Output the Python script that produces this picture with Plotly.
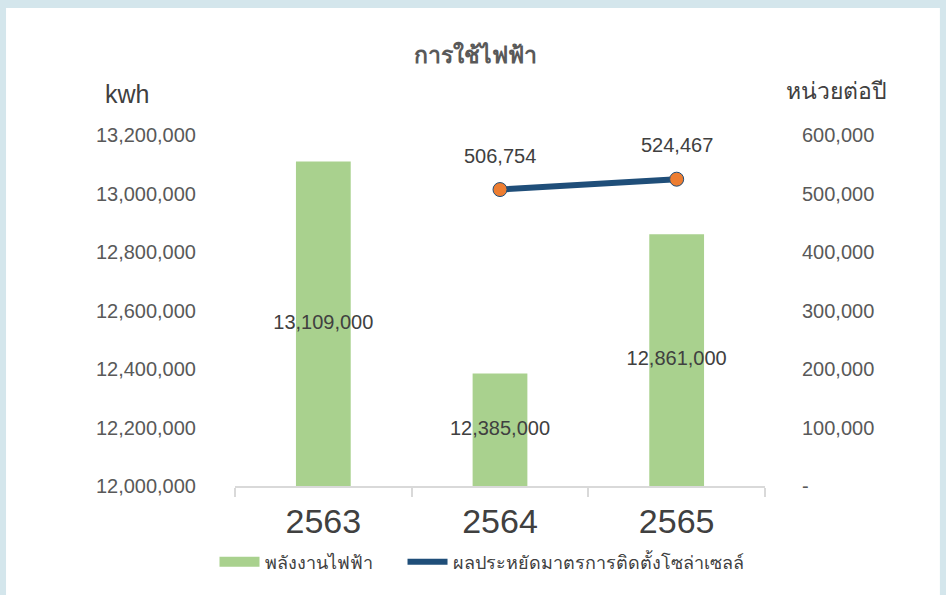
import plotly.graph_objects as go

years = ["2563", "2564", "2565"]
energy_kwh = [13109000, 12385000, 12861000]
saving_years = ["2564", "2565"]
saving_units = [506754, 524467]

left_ticks = [12000000, 12200000, 12400000, 12600000, 12800000, 13000000, 13200000]
right_ticks = [0, 100000, 200000, 300000, 400000, 500000, 600000]
right_ticktext = ["-", "100,000", "200,000", "300,000", "400,000", "500,000", "600,000"]

GRAY = "#595959"
DARK = "#404040"
FONT = "Liberation Sans, Arial, sans-serif"

BAR_NAME = "พลังงานไฟฟ้า"
LINE_NAME = "ผลประหยัดมาตรการติดตั้งโซล่าเซลล์"
BAR_COLOR = "#A9D18E"
LINE_COLOR = "#1F4E79"
NBSP = "\u00a0"

fig = go.Figure()
fig.add_trace(go.Bar(
    x=years, y=energy_kwh, name=BAR_NAME,
    marker=dict(color=BAR_COLOR, line=dict(width=0)),
    width=0.31, showlegend=False, yaxis="y",
))
# bar labels centred inside the visible bar
fig.add_trace(go.Scatter(
    x=years, y=[(12000000 + v) / 2 for v in energy_kwh], mode="text",
    text=[f"{v:,}" for v in energy_kwh], textposition="middle center",
    textfont=dict(family=FONT, size=20, color=DARK),
    showlegend=False, hoverinfo="skip", yaxis="y",
))
fig.add_trace(go.Scatter(
    x=saving_years, y=saving_units, name=LINE_NAME,
    mode="lines+markers",
    line=dict(color=LINE_COLOR, width=6),
    marker=dict(color="#ED7D31", size=14, line=dict(color=LINE_COLOR, width=1)),
    showlegend=False, yaxis="y2",
))
# legend-only entries (Excel-style symbols)
fig.add_trace(go.Scatter(x=[None], y=[None], mode="lines", name=BAR_NAME + NBSP * 5,
                         line=dict(color=BAR_COLOR, width=10), yaxis="y"))
fig.add_trace(go.Scatter(x=[None], y=[None], mode="lines", name=LINE_NAME,
                         line=dict(color=LINE_COLOR, width=6), yaxis="y2"))

annotations = [
    dict(x=years.index(x), y=v, xref="x", yref="y2", text=f"{v:,}", showarrow=False,
         yshift=34, xanchor="center", yanchor="middle",
         font=dict(family=FONT, size=20, color=DARK))
    for x, v in zip(saving_years, saving_units)
]
annotations += [
    dict(text="kwh", xref="paper", yref="paper", x=(127 - 235) / 530, y=(486 - 94) / 351,
         showarrow=False, xanchor="center", yanchor="middle",
         font=dict(family=FONT, size=25, color=DARK)),
    dict(text="หน่วยต่อปี", xref="paper", yref="paper", x=(836 - 235) / 530, y=(486 - 91) / 351,
         showarrow=False, xanchor="center", yanchor="middle",
         font=dict(family=FONT, size=23, color=DARK)),
]

fig.update_layout(
    width=946, height=595, autosize=False,
    margin=dict(l=235, r=181, t=135, b=109),
    paper_bgcolor="#D4E6EC", plot_bgcolor="white",
    font=dict(family=FONT, color=GRAY),
    title=dict(text="<b>การใช้ไฟฟ้า</b>", x=0.503, xanchor="center", y=0.907, yanchor="middle",
               font=dict(family=FONT, size=23, color=GRAY)),
    xaxis=dict(
        type="category", range=[-0.5, 2.5], showgrid=False,
        showline=True, linecolor="#D9D9D9", linewidth=2,
        ticks="outside", ticklen=9, tickcolor="#D9D9D9", tickwidth=2,
        tickson="boundaries", ticklabelstandoff=4,
        tickfont=dict(family=FONT, size=34, color=DARK),
    ),
    yaxis=dict(
        range=[12000000, 13200000], tickvals=left_ticks, tickformat=",d",
        showgrid=False, zeroline=False, showline=False,
        tickfont=dict(family=FONT, size=20, color=GRAY),
        ticklabelstandoff=38,
    ),
    yaxis2=dict(
        range=[0, 600000], tickvals=right_ticks, ticktext=right_ticktext,
        overlaying="y", side="right", showgrid=False, zeroline=False, showline=False,
        tickfont=dict(family=FONT, size=20, color=GRAY),
        ticklabelstandoff=36,
    ),
    legend=dict(
        orientation="h", x=(482 - 235) / 530, xanchor="center", y=-0.217, yanchor="middle",
        font=dict(family=FONT, size=18, color=DARK), bgcolor="rgba(0,0,0,0)",
        itemwidth=40,
    ),
    bargap=0.69,
    showlegend=True,
    shapes=[dict(type="rect", xref="paper", yref="paper", x0=-0.432, x1=1.330,
                 y0=-0.32, y1=1.362, fillcolor="white", line=dict(width=0), layer="below")],
    annotations=annotations,
)

fig.write_html("out.html", config={"displayModeBar": False},
               post_script="document.body.style.margin='0';")
